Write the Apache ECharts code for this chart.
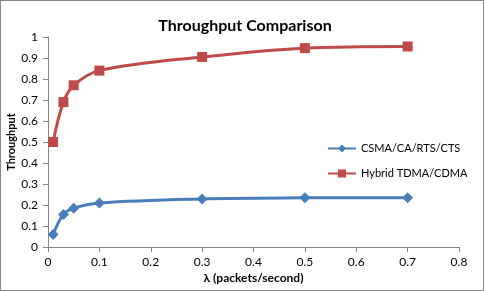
<!DOCTYPE html>
<html><head><meta charset="utf-8">
<script src="https://cdn.jsdelivr.net/npm/echarts@6/dist/echarts.min.js"></script>
<style>html,body{margin:0;padding:0;background:#fff}#c{width:484px;height:291px;box-sizing:border-box;border:1px solid #888}</style>
</head><body><div id="c"></div>
<script>
const lambdas = [0.01, 0.03, 0.05, 0.1, 0.3, 0.5, 0.7];
const csma = [0.06, 0.155, 0.185, 0.21, 0.229, 0.234, 0.235];
const hybrid = [0.50, 0.69, 0.77, 0.84, 0.905, 0.947, 0.955];
const seriesNames = ['CSMA/CA/RTS/CTS', 'Hybrid TDMA/CDMA'];
const font = 'Lato, "Open Sans", sans-serif';
const chart = echarts.init(document.getElementById('c'));
const pairs = v => lambdas.map((x, i) => [x, v[i]]);
chart.setOption({
  animation: false,
  title: { text: 'Throughput Comparison', left: 239, top: 12, textAlign: 'center',
    textStyle: { fontFamily: font, fontSize: 16, fontWeight: 'bold', color: '#000' } },
  grid: { left: 47, right: 24, top: 36, bottom: 43, containLabel: false, outerBoundsMode: 'none' },
  legend: { orient: 'vertical', left: 321, top: 137, itemWidth: 28, itemHeight: 10, itemGap: 14,
    textStyle: { fontFamily: font, fontSize: 11, color: '#000' }, data: seriesNames },
  xAxis: { type: 'value', min: 0, max: 0.8, interval: 0.1,
    name: 'λ (packets/second)', nameLocation: 'middle', nameGap: 25, nameMoveOverlap: false,
    nameTextStyle: { fontFamily: font, fontSize: 12, fontWeight: 'bold', color: '#000' },
    axisLine: { lineStyle: { color: '#868686' } },
    axisTick: { show: true, length: 5, lineStyle: { color: '#868686' } },
    axisLabel: { fontFamily: font, fontSize: 12, color: '#000', margin: 9 },
    splitLine: { show: false } },
  yAxis: { type: 'value', min: 0, max: 1, interval: 0.1,
    name: 'Throughput', nameLocation: 'middle', nameGap: 31, nameMoveOverlap: false,
    nameTextStyle: { fontFamily: font, fontSize: 11, fontWeight: 'bold', color: '#000' },
    axisLine: { show: true, lineStyle: { color: '#868686' } },
    axisTick: { show: true, length: 5, lineStyle: { color: '#868686' } },
    axisLabel: { fontFamily: font, fontSize: 12, color: '#000', margin: 10 },
    splitLine: { show: false } },
  series: [
    { name: seriesNames[0], type: 'line', smooth: 0.35, data: pairs(csma),
      symbol: 'diamond', symbolSize: 11, lineStyle: { color: '#4A7EBB', width: 3 },
      itemStyle: { color: '#4A7EBB' } },
    { name: seriesNames[1], type: 'line', smooth: 0.35, data: pairs(hybrid),
      symbol: 'rect', symbolSize: 10, lineStyle: { color: '#BE4B48', width: 3 },
      itemStyle: { color: '#BE4B48' } }
  ]
});
</script></body></html>
